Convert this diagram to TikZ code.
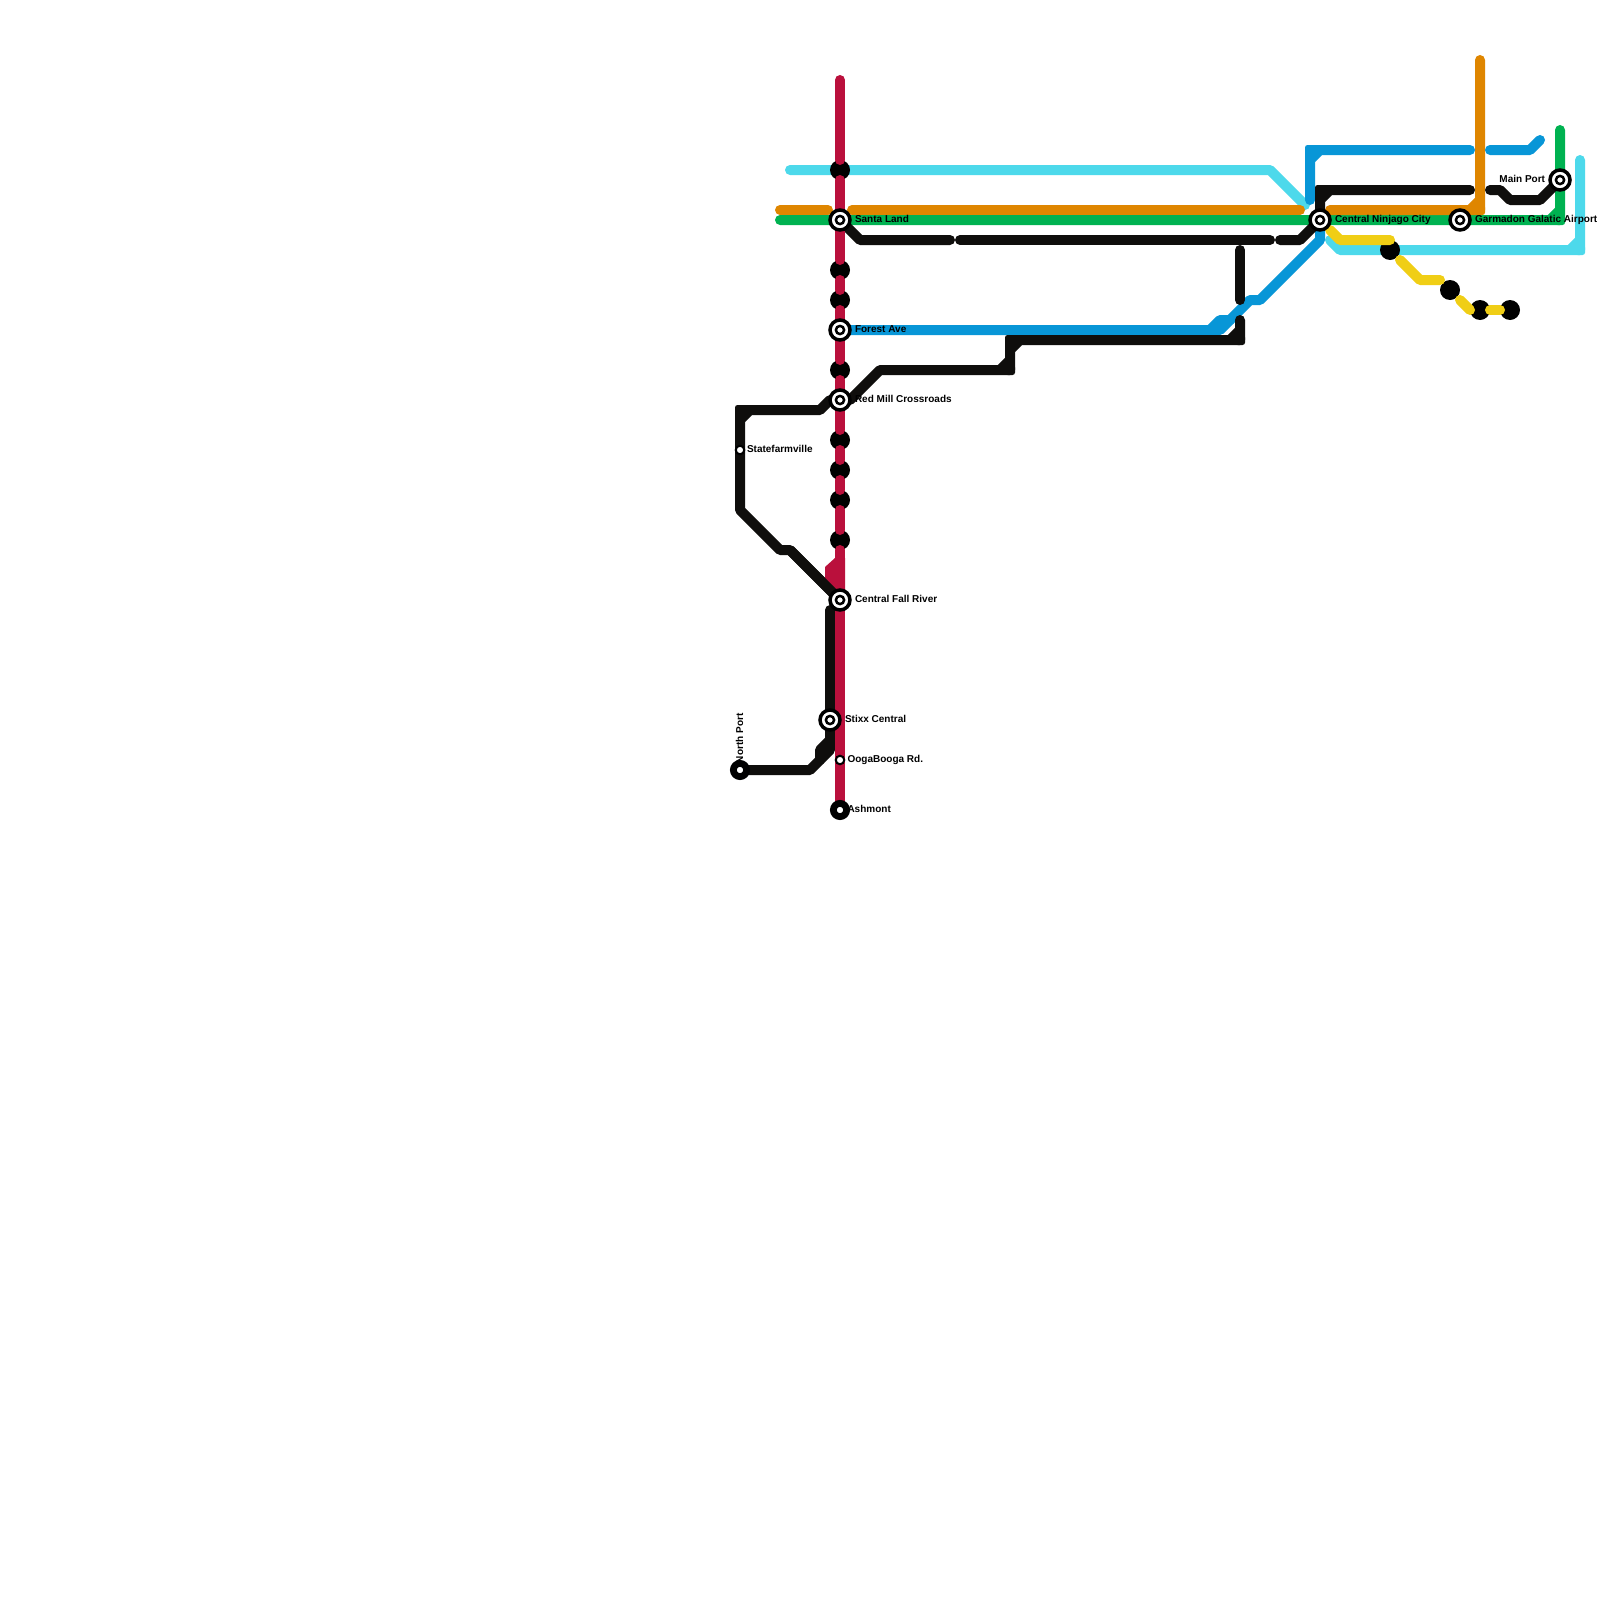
\documentclass[tikz,border=0pt]{standalone}
\usepackage{fontspec}
\setmainfont{Liberation Sans}
\definecolor{mred}{HTML}{BA103C}
\definecolor{mcyan}{HTML}{4DD9EB}
\definecolor{morange}{HTML}{DF8600}
\definecolor{mgreen}{HTML}{00B251}
\definecolor{mblue}{HTML}{0896D7}
\definecolor{mblack}{HTML}{0F0E0C}
\definecolor{myellow}{HTML}{F0CE15}
\tikzset{
  metro/.style={line width=10pt,line cap=round,line join=round},
  redl/.style={metro,draw=mred},
  cyanl/.style={metro,draw=mcyan},
  orangel/.style={metro,draw=morange},
  greenl/.style={metro,draw=mgreen},
  bluel/.style={metro,draw=mblue},
  blackl/.style={metro,draw=mblack},
  yellowl/.style={metro,draw=myellow},
  dotst/.style={circle,fill=black,minimum size=20pt,inner sep=0pt,outer sep=0pt},
  hub/.style={circle,draw=black,line width=3.5pt,fill=white,minimum size=20pt,inner sep=0pt,outer sep=0pt},
  hubcore/.style={circle,draw=black,line width=2.5pt,fill=white,minimum size=8.2pt,inner sep=0pt,outer sep=0pt},
  smallst/.style={circle,draw=black,line width=2pt,fill=white,minimum size=8.5pt,inner sep=0pt,outer sep=0pt},
  termst/.style={circle,draw=black,line width=6.8pt,fill=white,minimum size=13.2pt,inner sep=0pt,outer sep=0pt},
  lab/.style={inner sep=0pt,outer sep=0pt,text=black,font=\fontsize{10}{12}\selectfont\bfseries,anchor=base west},
}
\newcommand{\cornerpatch}[3]{\fill[#1,rounded corners=2.5pt] (#2-5,#3-5) rectangle (#2+5,#3+5);}
\begin{document}
\begin{tikzpicture}[x=1pt,y=-1pt]
\useasboundingbox[fill=white] (0,0) rectangle (1600,1600);
% station and stop positions
\coordinate (santa) at (840,220);
\coordinate (forest) at (840,330);
\coordinate (redmill) at (840,400);
\coordinate (fall) at (840,600);
\coordinate (stixx) at (830,720);
\coordinate (ooga) at (840,760);
\coordinate (ashmont) at (840,810);
\coordinate (state) at (740,450);
\coordinate (north) at (740,770);
\coordinate (ninjago) at (1320,220);
\coordinate (garmadon) at (1460,220);
\coordinate (mainport) at (1560,180);
% lines under everything
\draw[greenl] (780,220) -- (garmadon) -- (1560,220) -- (1560,130) (1550,220) -- (1560,210);
\cornerpatch{mgreen}{1560}{220}
\draw[cyanl] (790,170) -- (1270,170) -- (1305,205);
\draw[cyanl] (1330,240) -- (1340,250) -- (1580,250) -- (1580,160) (1570,250) -- (1580,240);
\cornerpatch{mcyan}{1580}{250}
\draw[orangel] (780,210) -- (828,210);
\draw[orangel] (852,210) -- (1300,210);
\draw[orangel] (1330,210) -- (1480,210) -- (1480,60) (1470,210) -- (1480,200);
\cornerpatch{morange}{1480}{210}
\draw[bluel] (1310,200) -- (1310,150) -- (1470,150) (1310,160) -- (1320,150);
\cornerpatch{mblue}{1310}{150}
\draw[bluel] (1490,150) -- (1530,150) -- (1540,140);
\draw[bluel] (forest) -- (1220,330) -- (1250,300) -- (1260,300) -- (1320,240) -- (ninjago);
\draw[bluel] (1210,330) -- (1220,320) -- (1230,320);
\draw[blackl] (santa) -- (860,240) -- (950,240);
\draw[blackl] (960,240) -- (1270,240);
\draw[blackl] (1280,240) -- (1300,240) -- (ninjago);
\draw[blackl] (1240,250) -- (1240,300);
\draw[blackl] (redmill) -- (850,400) -- (880,370) -- (1010,370) -- (1010,340) -- (1240,340) -- (1240,320)
  (1000,370) -- (1010,360) (1010,350) -- (1020,340) (1230,340) -- (1240,330);
\cornerpatch{mblack}{1010}{370}
\cornerpatch{mblack}{1010}{340}
\cornerpatch{mblack}{1240}{340}
\draw[blackl] (redmill) -- (830,400) -- (820,410) -- (740,410) -- (740,510) -- (780,550) -- (790,550) -- (fall)
  (740,420) -- (750,410);
\cornerpatch{mblack}{740}{410}
\draw[blackl] (830,610) -- (stixx) -- (830,750) -- (810,770) -- (north);
\draw[blackl] (830,740) -- (820,750) -- (820,760);
\draw[blackl] (ninjago) -- (1320,190) -- (1470,190) (1320,200) -- (1330,190);
\cornerpatch{mblack}{1320}{190}
\draw[blackl] (1490,190) -- (1500,190) -- (1510,200) -- (1540,200) -- (mainport);
% plain stops
\foreach \nm/\yy in {d1/170,d2/270,d3/300,d4/370,d5/440,d6/470,d7/500,d8/540}
  \node[dotst] (\nm) at (840,\yy) {};
\node[dotst] (d9) at (1390,250) {};
\node[dotst] (d10) at (1450,290) {};
\node[dotst] (d11) at (1480,310) {};
\node[dotst] (d12) at (1510,310) {};
% yellow line
\draw[yellowl] (1330,230) -- (1340,240) -- (1390,240);
\draw[yellowl] (1400,260) -- (1420,280) -- (1440,280);
\draw[yellowl] (1460,300) -- (1470,310);
\draw[yellowl] (1490,310) -- (1500,310);
% red line
\draw[redl] (840,80) -- (840,160);
\draw[redl] (840,180) -- (840,260);
\draw[redl] (840,280) -- (840,290);
\draw[redl] (840,310) -- (840,360);
\draw[redl] (840,380) -- (840,430);
\draw[redl] (840,450) -- (840,460);
\draw[redl] (840,480) -- (840,490);
\draw[redl] (840,510) -- (840,530);
\draw[redl] (840,550) -- (ashmont);
\fill[mred] (835,558) -- (825,567) -- (825,590) -- (840,602) -- (845,590) -- (845,558) -- cycle;
\draw[blackl,line cap=butt] (790,550) -- (fall);
% stations
\foreach \nm in {santa,forest,redmill,fall,stixx,ninjago,garmadon,mainport}{
  \node[hub] (\nm H) at (\nm) {};
  \node[hubcore] (\nm C) at (\nm) {};
}
\node[smallst] (stateS) at (state) {};
\node[smallst] (oogaS) at (ooga) {};
\node[termst] (northS) at (north) {};
\node[termst] (ashmontS) at (ashmont) {};
% labels
\node[lab] (l1) at (855,222.5) {Santa Land};
\node[lab] (l2) at (855,332.5) {Forest Ave};
\node[lab] (l3) at (855,402) {Red Mill Crossroads};
\node[lab] (l4) at (855,602) {Central Fall River};
\node[lab] (l5) at (845,722) {Stixx Central};
\node[lab] (l6) at (847.5,762) {OogaBooga Rd.};
\node[lab] (l7) at (847.5,812) {Ashmont};
\node[lab] (l8) at (747,452) {Statefarmville};
\node[lab,rotate=90] (l9) at (743,763) {North Port};
\node[lab] (l10) at (1335,222.5) {Central Ninjago City};
\node[lab] (l11) at (1475,222.5) {Garmadon Galatic Airport};
\node[lab,anchor=base east] (l12) at (1545,182) {Main Port};
\end{tikzpicture}
\end{document}
